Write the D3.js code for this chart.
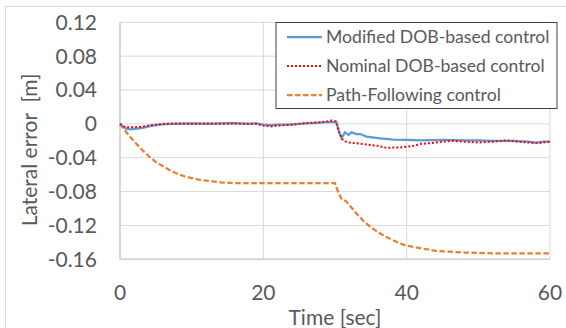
<!DOCTYPE html>
<html>
<head>
<meta charset="utf-8">
<script src="https://cdn.jsdelivr.net/npm/d3@7"></script>
<style>
  body { margin: 0; background: #fff; }
  svg text { font-family: Lato, "Open Sans", sans-serif; fill: #595959; }
</style>
</head>
<body>
<div id="chart"></div>
<script>
// ---- data ----
const xTicks = [0, 20, 40, 60];
const yTicks = [0.12, 0.08, 0.04, 0, -0.04, -0.08, -0.12, -0.16];
const seriesNames = ["Modified DOB-based control", "Nominal DOB-based control", "Path-Following control"];

const modTime = [0, 0.5, 1, 1.5, 2, 3, 4, 5, 6, 7, 8, 10, 12, 14, 16, 18, 19, 20, 21, 22, 23, 24, 25, 26, 27, 28, 29, 30, 30.2,
  30.6, 30.9, 31.4, 31.9, 32.3, 33, 33.5, 34.4, 36.3, 38.1, 40, 42, 45, 48, 50, 52, 55, 57, 58, 59, 60];
const modValue = [0, -0.004, -0.006, -0.0065, -0.006, -0.005, -0.003, -0.0015, -0.0005, 0, 0, 0.0005, 0, 0.0005, 0.001, 0, 0.0005,
  -0.001, -0.0015, -0.001, -0.001, -0.0005, 0, 0.0005, 0.001, 0.0015, 0.002, 0.002, 0.002,
  -0.010, -0.017, -0.010, -0.013, -0.010, -0.012, -0.012, -0.015, -0.017, -0.0185, -0.019, -0.0195, -0.019, -0.0195, -0.0195,
  -0.020, -0.020, -0.021, -0.022, -0.021, -0.021];

const nomTime = [0, 0.5, 1, 2, 3, 4, 5, 6, 8, 10, 12, 14, 16, 18, 19, 20, 21, 22, 23, 24, 25, 26, 27, 28, 29, 29.6, 30.1,
  30.5, 31, 31.5, 32, 33, 34, 35, 36, 37.2, 38, 39, 40, 41, 42, 43, 44, 45, 46.5, 48, 50, 52, 54, 56, 57, 58, 59, 60];
const nomValue = [0, -0.003, -0.004, -0.004, -0.0035, -0.002, -0.001, 0, 0.0005, 0, 0.0005, 0, 0.0005, 0, 0, -0.002, -0.003,
  -0.002, -0.0015, -0.001, 0, 0.001, 0.0015, 0.002, 0.003, 0.004, 0.003,
  -0.008, -0.018, -0.021, -0.022, -0.023, -0.024, -0.025, -0.026, -0.0284, -0.028, -0.028, -0.027, -0.026, -0.0236, -0.023,
  -0.022, -0.021, -0.020, -0.021, -0.022, -0.021, -0.0196, -0.0215, -0.022, -0.023, -0.022, -0.021];

const pathTime = [0, 1, 2, 3, 4, 5, 6, 7, 8, 9, 10, 11, 12, 13, 14, 15, 16, 18, 20, 25, 30, 30.5, 31, 31.5, 32, 33, 34, 35, 36,
  37, 38, 39, 40, 42, 44, 46, 48, 50, 52, 55, 60];
const pathValue = [0, -0.011, -0.021, -0.030, -0.038, -0.045, -0.050, -0.055, -0.059, -0.062, -0.064, -0.066, -0.067, -0.068,
  -0.069, -0.0695, -0.070, -0.070, -0.070, -0.070, -0.070, -0.082, -0.090, -0.091, -0.096, -0.106, -0.115, -0.122, -0.128,
  -0.133, -0.137, -0.141, -0.144, -0.147, -0.150, -0.151, -0.152, -0.1525, -0.153, -0.153, -0.153];

// ---- layout ----
const width = 566, height = 328;
const plot = {left: 120, right: 550, top: 22.3, bottom: 259.3};

const svg = d3.select("#chart").append("svg")
    .attr("width", width)
    .attr("height", height);

// outer chart border
svg.append("rect")
    .attr("x", 5.5).attr("y", 6.5)
    .attr("width", 600).attr("height", 400)
    .attr("fill", "none")
    .attr("stroke", "#d9d9d9")
    .attr("stroke-width", 1);

const x = d3.scaleLinear().domain([0, 60]).range([plot.left, plot.right]);
const y = d3.scaleLinear().domain([-0.16, 0.12]).range([plot.bottom, plot.top]);

// gridlines
svg.append("g").selectAll("line.h")
    .data(yTicks)
    .join("line")
    .attr("x1", plot.left).attr("x2", plot.right)
    .attr("y1", d => y(d)).attr("y2", d => y(d))
    .attr("stroke", "#d9d9d9").attr("stroke-width", 1);

svg.append("g").selectAll("line.v")
    .data(xTicks)
    .join("line")
    .attr("x1", d => x(d)).attr("x2", d => x(d))
    .attr("y1", plot.top).attr("y2", plot.bottom)
    .attr("stroke", "#d9d9d9").attr("stroke-width", 1);

// axis lines
svg.append("line")
    .attr("x1", plot.left).attr("x2", plot.left)
    .attr("y1", plot.top).attr("y2", plot.bottom)
    .attr("stroke", "#d0d0d0").attr("stroke-width", 1.5);
svg.append("line")
    .attr("x1", plot.left).attr("x2", plot.right)
    .attr("y1", plot.bottom).attr("y2", plot.bottom)
    .attr("stroke", "#d0d0d0").attr("stroke-width", 1.5);

// tick labels
svg.append("g").selectAll("text")
    .data(yTicks)
    .join("text")
    .attr("x", 97)
    .attr("y", d => y(d))
    .attr("dy", "0.35em")
    .attr("text-anchor", "end")
    .attr("font-size", "21px")
    .text(d => d === 0 ? "0" : d.toFixed(2));

svg.append("g").selectAll("text")
    .data(xTicks)
    .join("text")
    .attr("x", d => x(d))
    .attr("y", 300)
    .attr("text-anchor", "middle")
    .attr("font-size", "21px")
    .text(d => d);

// axis titles
svg.append("text")
    .attr("x", x(30))
    .attr("y", 325)
    .attr("text-anchor", "middle")
    .attr("font-size", "21px")
    .text("Time [sec]");

svg.append("text")
    .attr("transform", "translate(37,150) rotate(-90)")
    .attr("text-anchor", "middle")
    .attr("font-size", "21px")
    .style("white-space", "pre")
    .text("Lateral error  [m]");

// ---- lines ----
const line = d3.line()
    .x(d => x(d[0]))
    .y(d => y(d[1]));

const styles = [
  {color: "#5b9bd5", width: 2.25, dash: null},
  {color: "#ff0000", width: 2, dash: "2,2"},
  {color: "#ed7d31", width: 2.25, dash: "5.5,2.5"}
];
const series = [
  d3.zip(modTime, modValue),
  d3.zip(nomTime, nomValue),
  d3.zip(pathTime, pathValue)
];

// draw path-following first so the DOB lines are on top like in the original
[2, 0, 1].forEach(i => {
  svg.append("path")
      .datum(series[i])
      .attr("fill", "none")
      .attr("stroke", styles[i].color)
      .attr("stroke-width", styles[i].width)
      .attr("stroke-dasharray", styles[i].dash)
      .attr("d", line);
});

// ---- legend ----
const legend = svg.append("g");
legend.append("rect")
    .attr("x", 276).attr("y", 22.5)
    .attr("width", 281).attr("height", 86)
    .attr("fill", "#fff")
    .attr("stroke", "#404040")
    .attr("stroke-width", 1);

const legY = [37, 66, 95];
seriesNames.forEach((name, i) => {
  legend.append("line")
      .attr("x1", 287).attr("x2", 322)
      .attr("y1", legY[i]).attr("y2", legY[i])
      .attr("stroke", styles[i].color)
      .attr("stroke-width", styles[i].width)
      .attr("stroke-dasharray", styles[i].dash);
  legend.append("text")
      .attr("x", 326)
      .attr("y", legY[i])
      .attr("dy", "0.35em")
      .attr("font-size", "17.6px")
      .text(name);
});
</script>
</body>
</html>
